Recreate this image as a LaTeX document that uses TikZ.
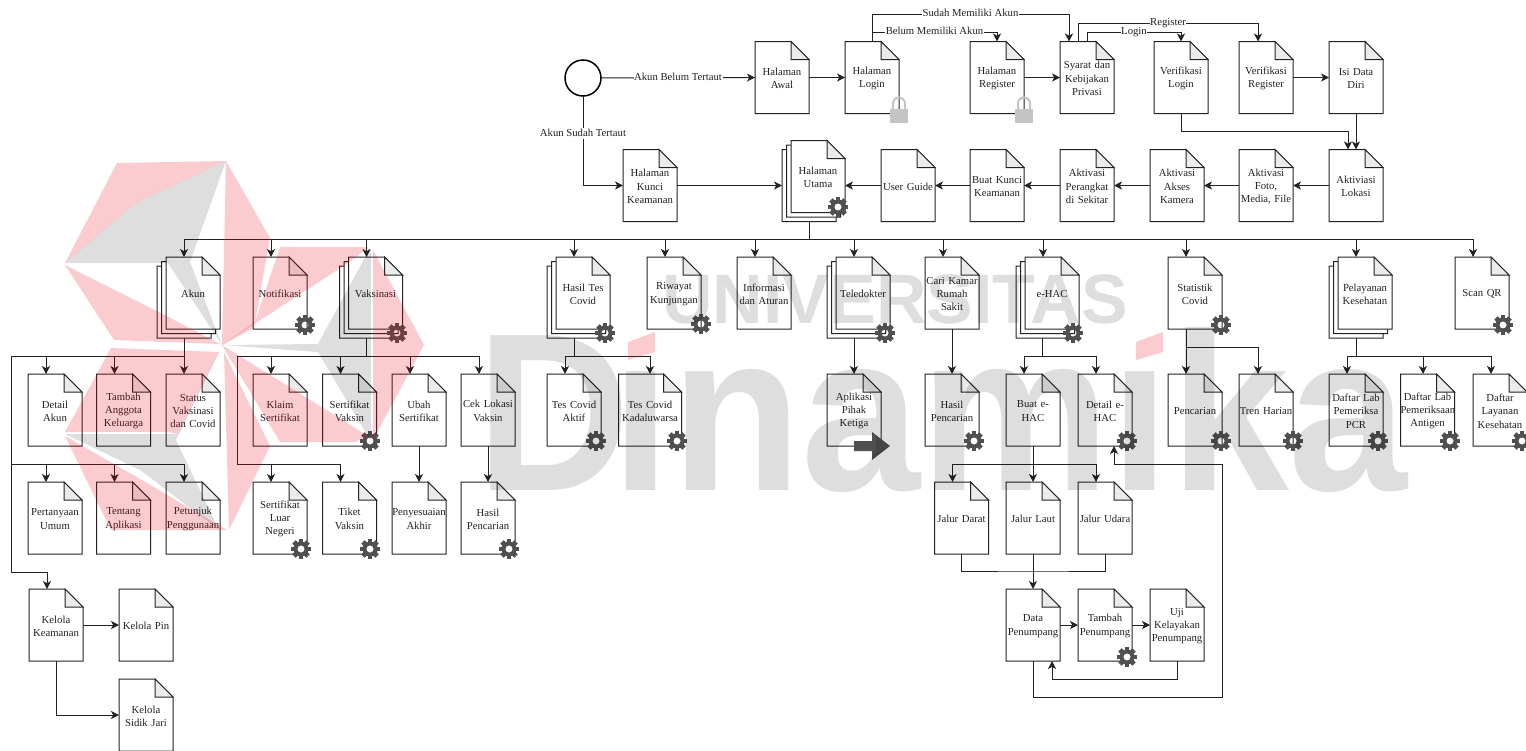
\documentclass[tikz,border=0pt]{standalone}
\usepackage{fontspec}
\setmainfont{Liberation Serif}
\newfontfamily\wmfont{Liberation Sans}
\usetikzlibrary{arrows.meta,shadows}
\definecolor{inkline}{HTML}{222222}
\definecolor{foldgray}{HTML}{EBEBEB}
\definecolor{gearfill}{HTML}{505050}
\definecolor{lockgray}{HTML}{C4C4C4}
\definecolor{wmred}{HTML}{E60012}
\makeatletter
\pgfdeclareshape{docpage}{
  \inheritsavedanchors[from=rectangle]
  \inheritanchorborder[from=rectangle]
  \inheritanchor[from=rectangle]{center}
  \inheritanchor[from=rectangle]{north}
  \inheritanchor[from=rectangle]{south}
  \inheritanchor[from=rectangle]{east}
  \inheritanchor[from=rectangle]{west}
  \inheritanchor[from=rectangle]{north east}
  \inheritanchor[from=rectangle]{north west}
  \inheritanchor[from=rectangle]{south east}
  \inheritanchor[from=rectangle]{south west}
  \anchor{text}{\pgfqpoint{0pt}{-1pt}}
  \backgroundpath{
    \southwest \pgf@xa=\pgf@x \pgf@ya=\pgf@y
    \northeast \pgf@xb=\pgf@x \pgf@yb=\pgf@y
    \pgf@xc=\pgf@xb \advance\pgf@xc by -18pt
    \pgf@yc=\pgf@yb \advance\pgf@yc by -18pt
    \pgfpathmoveto{\pgfqpoint{\pgf@xa}{\pgf@ya}}
    \pgfpathlineto{\pgfqpoint{\pgf@xb}{\pgf@ya}}
    \pgfpathlineto{\pgfqpoint{\pgf@xb}{\pgf@yc}}
    \pgfpathlineto{\pgfqpoint{\pgf@xc}{\pgf@yb}}
    \pgfpathlineto{\pgfqpoint{\pgf@xa}{\pgf@yb}}
    \pgfpathclose
  }
  \beforebackgroundpath{
    \southwest \pgf@xa=\pgf@x \pgf@ya=\pgf@y
    \northeast \pgf@xb=\pgf@x \pgf@yb=\pgf@y
    \pgf@xc=\pgf@xb \advance\pgf@xc by -18pt
    \pgf@yc=\pgf@yb \advance\pgf@yc by -18pt
    \pgfpathmoveto{\pgfqpoint{\pgf@xc}{\pgf@yb}}
    \pgfpathlineto{\pgfqpoint{\pgf@xb}{\pgf@yc}}
    \pgfpathlineto{\pgfqpoint{\pgf@xc}{\pgf@yc}}
    \pgfpathclose
    \pgfsetfillcolor{foldgray}
    \pgfusepath{fill,stroke}
  }
}
\makeatother
\tikzset{
  page/.style={shape=docpage, draw=inkline, fill=white, line width=1pt, text=inkline,
    minimum width=54, minimum height=72, text width=54pt, inner sep=0pt, outer sep=0pt,
    align=center, font=\fontsize{10.7}{13.3}\selectfont},
  widepage/.style={page, minimum width=63, text width=63pt},
  pagestack/.style={page, double copy shadow={shadow xshift=-4.5pt, shadow yshift=-4.5pt}},
  startnode/.style={draw=black, circle, line width=1.5pt, minimum size=36, inner sep=0pt, outer sep=0pt},
  tree/.style={draw=inkline, line width=1pt},
  link/.style={tree, -{Stealth[length=8pt,width=8pt,inset=2.2pt]}},
  edgetext/.style={fill=white, inner sep=0.6pt, text height=7.2pt, text depth=2.3pt, text=inkline,
    font=\fontsize{10.7}{13.3}\selectfont},
  wmtext/.style={inner sep=0pt, text=black, text opacity=0.13},
  wmpink/.style={fill=wmred, fill opacity=0.2},
  wmgray/.style={fill=black, fill opacity=0.13},
  gearicon/.pic={
    \fill[gearfill,even odd rule] (0,0) circle (7.5) (0,0) circle (3.6);
    \foreach \a in {0,45,...,315}
      \fill[gearfill,rotate=\a] (-2.4,-10) rectangle (2.4,-6.6);
  },
  lockicon/.pic={
    \draw[lockgray,line width=2pt] (-6,-6) -- (-6,-12) arc[start angle=180,end angle=360,radius=6] -- (6,-6);
    \fill[lockgray] (-9,-7) rectangle (9,7);
  },
  leavearrow/.pic={
    \fill[gearfill] (-27,-5) -- (-9,-5) -- (-9,-14) -- (9,0) -- (-9,14) -- (-9,5) -- (-27,5) -- cycle;
  },
}
\begin{document}
\begin{tikzpicture}[x=1pt,y=-1pt]
\useasboundingbox (0,0) rectangle (1526,750);
\node[startnode] (start) at (583,78) {};
\node[page] (awal) at (782,77.5) {Halaman\\Awal};
\node[page] (login) at (872,77.5) {Halaman\\Login};
\node[page] (register) at (997,77.5) {Halaman\\Register};
\node[page] (syarat) at (1087,77.5) {Syarat dan\\Kebijakan\\Privasi};
\node[page] (verlogin) at (1181,77.5) {Verifikasi\\Login};
\node[page] (verreg) at (1266,77.5) {Verifikasi\\Register};
\node[page] (isidata) at (1356,77.5) {Isi Data\\Diri};
\node[page] (kunci) at (650,185.5) {Halaman\\Kunci\\Keamanan};
\node[pagestack] (utama) at (818,176.5) {Halaman\\Utama};
\node[page] (guide) at (908,185.5) {User Guide};
\node[page] (buatkunci) at (997,185.5) {Buat Kunci\\Keamanan};
\node[page] (perangkat) at (1087,185.5) {Aktivasi\\Perangkat\\di Sekitar};
\node[page] (kamera) at (1177,185.5) {Aktivasi\\Akses\\Kamera};
\node[page] (foto) at (1266,185.5) {Aktivasi\\Foto,\\Media, File};
\node[page] (lokasi) at (1356,185.5) {Aktiviasi\\Lokasi};
\node[pagestack] (akun) at (193,293) {Akun};
\node[page] (notifikasi) at (280,293) {Notifikasi};
\node[pagestack] (vaksinasi) at (375.5,293) {Vaksinasi};
\node[pagestack] (hasiltes) at (583,293) {Hasil Tes\\Covid};
\node[page] (riwayat) at (674,293) {Riwayat\\Kunjungan};
\node[page] (informasi) at (764,293) {Informasi\\dan Aturan};
\node[pagestack] (teledokter) at (863,293) {Teledokter};
\node[page] (carikamar) at (952,293) {Cari Kamar\\Rumah\\Sakit};
\node[pagestack] (ehac) at (1052,293) {e-HAC};
\node[page] (statistik) at (1195,293) {Statistik\\Covid};
\node[pagestack] (pelayanan) at (1365,293) {Pelayanan\\Kesehatan};
\node[page] (scan) at (1482,293) {Scan QR};
\node[page] (detail) at (55,410) {Detail\\Akun};
\node[page] (tambah) at (123.5,410) {Tambah\\Anggota\\Keluarga};
\node[page] (status) at (193,410) {Status\\Vaksinasi\\dan Covid};
\node[page] (klaim) at (280,410) {Klaim\\Sertifikat};
\node[page] (sertvaksin) at (349.5,410) {Sertifikat\\Vaksin};
\node[page] (ubah) at (419,410) {Ubah\\Sertifikat};
\node[page] (ceklokasi) at (488,410) {Cek Lokasi\\Vaksin};
\node[page] (tesaktif) at (574,410) {Tes Covid\\Aktif};
\node[widepage] (teskada) at (650,410) {Tes Covid\\Kadaluwarsa};
\node[page] (aplikasi) at (854,410) {Aplikasi\\Pihak\\Ketiga};
\node[page] (hasilcari) at (952,410) {Hasil\\Pencarian};
\node[page] (buatehac) at (1033,410) {Buat e-\\HAC};
\node[page] (detailehac) at (1105,410) {Detail e-\\HAC};
\node[page] (pencarian) at (1195,410) {Pencarian};
\node[page] (tren) at (1266,410) {Tren Harian};
\node[page] (labpcr) at (1356,410) {Daftar Lab\\Pemeriksa\\PCR};
\node[page] (labantigen) at (1427.5,410) {Daftar Lab\\Pemeriksaan\\Antigen};
\node[page] (layanan) at (1500,410) {Daftar\\Layanan\\Kesehatan};
\node[page] (tanya) at (55,518) {Pertanyaan\\Umum};
\node[page] (tentang) at (123.5,518) {Tentang\\Aplikasi};
\node[page] (petunjuk) at (193,518) {Petunjuk\\Penggunaan};
\node[page] (sertluar) at (280,518) {Sertifikat\\Luar\\Negeri};
\node[page] (tiket) at (349.5,518) {Tiket\\Vaksin};
\node[page] (penyesuaian) at (419,518) {Penyesuaian\\Akhir};
\node[page] (hasilcek) at (488,518) {Hasil\\Pencarian};
\node[page] (darat) at (961.5,518) {Jalur Darat};
\node[page] (laut) at (1033,518) {Jalur Laut};
\node[page] (udara) at (1105,518) {Jalur Udara};
\node[page] (penumpang) at (1033,625) {Data\\Penumpang};
\node[page] (tambahpen) at (1105,625) {Tambah\\Penumpang};
\node[page] (uji) at (1177,625) {Uji\\Kelayakan\\Penumpang};
\node[page] (kelola) at (56,625) {Kelola\\Keamanan};
\node[page] (kelolapin) at (146,625) {Kelola Pin};
\node[page] (sidikjari) at (146,715) {Kelola\\Sidik Jari};
\coordinate (bus) at (809,239);
\coordinate (akunbus) at (184,356);
\coordinate (faqbus) at (11,464);
\coordinate (vaksinbus) at (366.5,356);
\coordinate (klaimbus) at (237,464);
\coordinate (tesbus) at (574,356);
\coordinate (ehacbus) at (1042,356);
\coordinate (statbus) at (1186,347);
\coordinate (labbus) at (1356,356);
\coordinate (jalurbus) at (1033,464);
\coordinate (jalurend) at (1033,571);
\draw[link] (start) -- node[edgetext] {Akun Belum Tertaut} (awal);
\draw[link] (start) |- node[edgetext,pos=.21] {Akun Sudah Tertaut} (kunci);
\draw[link] (awal) -- (login);
\draw[link] (login.north) -- ++(0,-27) -| node[edgetext,pos=.25] {Sudah Memiliki Akun} ([xshift=-18]syarat.north);
\draw[link] ([yshift=9]login.north) -| node[edgetext,pos=.25] {Belum Memiliki Akun} (register.north);
\draw[link] (register) -- (syarat);
\draw[link] ([xshift=-9]syarat.north) -- ++(0,-18) -| node[edgetext,pos=.25] {Register} ([xshift=-8]verreg.north);
\draw[link] (syarat.north) -- ++(0,-9) -| node[edgetext,pos=.25] {Login} (verlogin.north);
\draw[link] (verreg) -- (isidata);
\draw[link] (isidata) -- (lokasi);
\draw[link] (verlogin.south) -- ++(0,18) -| ([xshift=-8]lokasi.north);
\draw[link] (lokasi) -- (foto);
\draw[link] (foto) -- (kamera);
\draw[link] (kamera) -- (perangkat);
\draw[link] (perangkat) -- (buatkunci);
\draw[link] (buatkunci) -- (guide);
\draw[link] (guide) -- (utama.east |- guide);
\draw[link] (kunci) -- ([xshift=-9]utama.west |- kunci);
\draw[tree] ([shift={(-9,9)}]utama.south) -- (bus);
\foreach \n in {akun,notifikasi,vaksinasi,hasiltes,riwayat,informasi,teledokter,carikamar,ehac,statistik,pelayanan,scan}
  \draw[link] (bus) -| ([xshift=-9]\n.north);
\draw[tree] ([shift={(-9,9)}]akun.south) -- (akunbus);
\foreach \n in {detail,tambah,status}
  \draw[link] (akunbus) -| ([xshift=-9]\n.north);
\draw[link] (akunbus) -- (11,356) -- (11,572) -| ([xshift=-9]kelola.north);
\foreach \n in {tanya,tentang,petunjuk}
  \draw[link] (faqbus) -| ([xshift=-9]\n.north);
\draw[link] (kelola) -- (kelolapin);
\draw[link] (kelola.south) |- (sidikjari);
\draw[tree] ([shift={(-9,9)}]vaksinasi.south) -- (vaksinbus);
\foreach \n in {klaim,sertvaksin,ubah,ceklokasi}
  \draw[link] (vaksinbus) -| ([xshift=-9]\n.north);
\draw[tree] (vaksinbus) -| (klaimbus);
\foreach \n in {sertluar,tiket}
  \draw[link] (klaimbus) -| ([xshift=-9]\n.north);
\draw[link] (ubah) -- (penyesuaian);
\draw[link] (ceklokasi) -- (hasilcek);
\draw[tree] ([shift={(-9,9)}]hasiltes.south) -- (tesbus);
\draw[link] (tesbus) -| ([xshift=-9]tesaktif.north);
\draw[link] (tesbus) -| (teskada.north);
\draw[link] ([shift={(-9,9)}]teledokter.south) -- (aplikasi.north);
\draw[link] (carikamar) -- (hasilcari);
\draw[tree] ([shift={(-10,9)}]ehac.south) -- (ehacbus);
\draw[link] (ehacbus) -| ([xshift=-9]buatehac.north);
\draw[link] (ehacbus) -| ([xshift=-9]detailehac.north);
\draw[link] ([xshift=-9]statistik.south) -- ([xshift=-9]pencarian.north);
\draw[link] (statbus) -| ([xshift=-8]tren.north);
\draw[tree] ([shift={(-9,9)}]pelayanan.south) -- (labbus);
\draw[link] (labbus) -| ([xshift=-9]labpcr.north);
\draw[link] (labbus) -| ([xshift=-4.5]labantigen.north);
\draw[link] (labbus) -| ([xshift=-9]layanan.north);
\draw[link] (buatehac) -- (laut);
\draw[link] (jalurbus) -| ([xshift=-9]darat.north);
\draw[link] (jalurbus) -| ([xshift=-9]udara.north);
\draw[tree] (darat.south) |- (jalurend) -| (udara.south);
\draw[link] (laut) -- (penumpang);
\draw[link] (penumpang) -- (tambahpen);
\draw[link] (tambahpen) -- (uji);
\draw[link] (uji.south) -- ++(0,18) -| ([xshift=19]penumpang.south);
\draw[link] (penumpang.south) -- ++(0,36) -| (1222,464) -| ([xshift=9]detailehac.south);
\pic at ([shift={(-7,-5.5)}]utama.south east) {gearicon};
\foreach \n/\dx/\dy in {notifikasi/-2/-4,vaksinasi/-5.5/4,sertvaksin/-6.5/-5,sertluar/-6/-5,tiket/-6.5/-5,hasilcek/-6/-5,hasiltes/-5/4,riwayat/0/-5,tesaktif/-5/-5,teskada/-4.5/-5,teledokter/-5/4,hasilcari/-5/-5,ehac/-6/4,statistik/-1/-4,scan/-6/-4,detailehac/-5/-5,pencarian/-1/-5,tren/0/-5,labpcr/-5/-5,labantigen/-4.5/-5,layanan/-5/-5,tambahpen/-5/-4}
  \pic at ([shift={(\dx,\dy)}]\n.south east) {gearicon};
\pic at ([yshift=-2]login.south east) {lockicon};
\pic at ([yshift=-2]register.south east) {lockicon};
\pic at (aplikasi.south east) {leavearrow};
\fill[wmpink] (65,263) -- (117,163) -- (226,161) -- (136,203) -- cycle;
\fill[wmgray] (226,161) -- (136,203) -- (65,263) -- (168,263) -- (222,345) -- (190,262) -- cycle;
\fill[wmpink] (226,161) -- (270,238) -- (254,328) -- (222,345) -- cycle;
\fill[wmpink] (222,345) -- (255,322) -- (280,247) -- (369,247) -- (348,263) -- cycle;
\fill[wmgray] (369,250) -- (318,344) -- (222,345) -- (318,352) -- (369,438) -- (371,440) -- (371,250) -- cycle;
\fill[wmpink] (373,250) -- (424,345) -- (373,440) -- cycle;
\fill[wmpink] (222,345) -- (368,436) -- (355,442) -- (280,442) -- cycle;
\fill[wmpink] (224,352) -- (270,446) -- (229,530) -- cycle;
\fill[wmpink] (65,265) -- (114,340) -- (220,344) -- (155,310) -- cycle;
\fill[wmpink] (65,432) -- (111,348) -- (219,352) -- (178,434) -- (168,432) -- cycle;
\fill[wmgray] (222,345) -- (178,434) -- (65,434) -- (140,470) -- (219,530) -- (176,440) -- cycle;
\fill[wmpink] (65,436) -- (111,530) -- (227,530) -- (135,476) -- cycle;
\fill[wmpink] (628,342) -- (655,332) -- (655,352) -- (628,360) -- cycle;
\fill[wmpink] (1136,342) -- (1163,332) -- (1163,352) -- (1136,360) -- cycle;
\node[wmtext,anchor=base,font=\wmfont\bfseries\fontsize{70}{70}\selectfont] (wmuniv) at (895,323) {UNIVERSITAS};
\begin{scope}[even odd rule]
\clip (0,0) rectangle (1526,750) (612,320) rectangle (672,361) (1112,320) rectangle (1172,361);
\node[wmtext,anchor=base west,xscale=.95,font=\wmfont\bfseries\fontsize{225}{225}\selectfont] (wmname) at (476,490) {D\kern-20pt inamika};
\end{scope}
\end{tikzpicture}
\end{document}
